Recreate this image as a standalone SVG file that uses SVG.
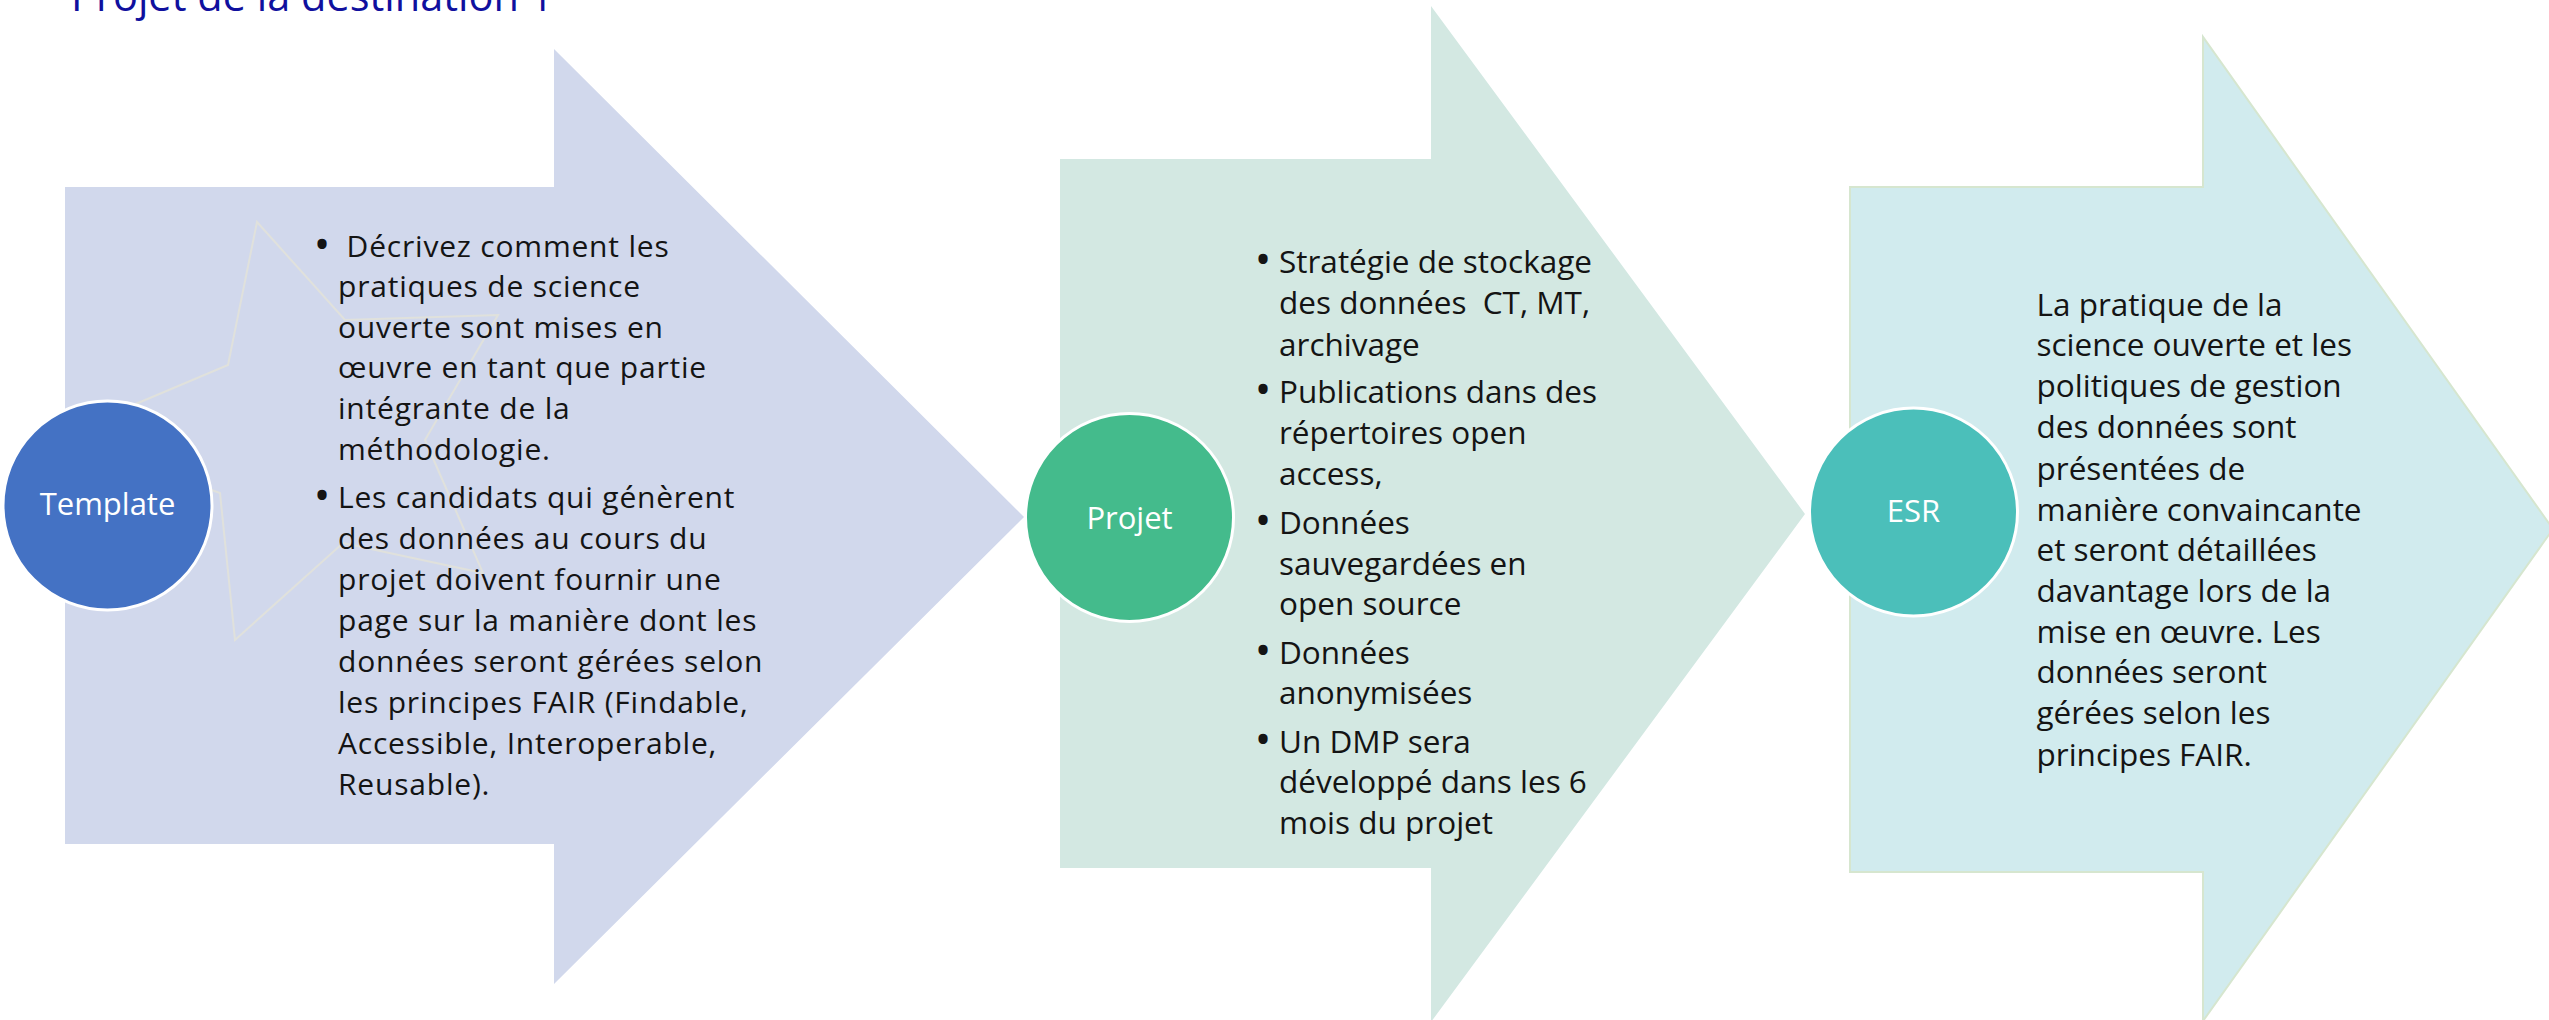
<svg xmlns="http://www.w3.org/2000/svg" width="2549" height="1020" viewBox="0 0 2549 1020" xml:space="preserve">
<style>
  .t { font-family: "Open Sans", "Liberation Sans", sans-serif; fill: #141414; white-space: pre; }
  .left { font-size: 30px; letter-spacing: 0.8px; }
  .mid { font-size: 31.5px; }
  .lbl { font-family: "Open Sans", "Liberation Sans", sans-serif; font-size: 31px; fill: #FFFFFF; text-anchor: middle; }
  .bul { text-anchor: middle; font-size: 44px; letter-spacing: 0; }
  .circ { stroke: #FFFFFF; stroke-width: 3; }
</style>
<rect x="0" y="0" width="2549" height="1020" fill="#FFFFFF"/>

<text x="71" y="11" font-family="'Open Sans', 'Liberation Sans', sans-serif" font-size="41.5" fill="#10109E">Projet de la destination 1</text>

<g id="node-template-arrow">
  <polygon points="65,187 554,187 554,49 1024,517 554,984 554,844 65,844" fill="#D1D8EC"/>
</g>

<g id="decoration-star">
  <polygon points="257,222 345,320 498,315 425,440 483,573 343,543 235,640 220,493 60,436 228,365" fill="none" stroke="#E0E1DC" stroke-width="2"/>
</g>

<g id="node-template-text" class="t left">
  <text class="bul" x="322" y="260">•</text>
  <text x="338" y="257">&#160;Décrivez comment les</text>
  <text x="338" y="297">pratiques de science</text>
  <text x="338" y="338">ouverte sont mises en</text>
  <text x="338" y="378">œuvre en tant que partie</text>
  <text x="338" y="419">intégrante de la</text>
  <text x="338" y="460">méthodologie.</text>
  <text class="bul" x="322" y="511">•</text>
  <text x="338" y="508">Les candidats qui génèrent</text>
  <text x="338" y="549">des données au cours du</text>
  <text x="338" y="590">projet doivent fournir une</text>
  <text x="338" y="631">page sur la manière dont les</text>
  <text x="338" y="672">données seront gérées selon</text>
  <text x="338" y="713">les principes FAIR (Findable,</text>
  <text x="338" y="754">Accessible, Interoperable,</text>
  <text x="338" y="795">Reusable).</text>
</g>

<g id="node-template">
  <circle class="circ" cx="107.5" cy="505.5" r="104.5" fill="#4472C4"/>
  <text class="lbl" x="107.5" y="515">Template</text>
</g>

<g id="node-projet-arrow">
  <polygon points="1060,159 1431,159 1431,6 1805,514 1431,1022 1431,868 1060,868" fill="#D3E8E2"/>
</g>

<g id="node-projet-text" class="t mid">
  <text class="bul" x="1263" y="275">•</text>
  <text x="1279" y="273">Stratégie de stockage</text>
  <text x="1279" y="314">des données&#160; CT, MT,</text>
  <text x="1279" y="356">archivage</text>
  <text class="bul" x="1263" y="405">•</text>
  <text x="1279" y="403">Publications dans des</text>
  <text x="1279" y="444">répertoires open</text>
  <text x="1279" y="485">access,</text>
  <text class="bul" x="1263" y="535.5">•</text>
  <text x="1279" y="533.5">Données</text>
  <text x="1279" y="574.5">sauvegardées en</text>
  <text x="1279" y="615">open source</text>
  <text class="bul" x="1263" y="665.5">•</text>
  <text x="1279" y="663.5">Données</text>
  <text x="1279" y="704">anonymisées</text>
  <text class="bul" x="1263" y="755">•</text>
  <text x="1279" y="753">Un DMP sera</text>
  <text x="1279" y="792.5">développé dans les 6</text>
  <text x="1279" y="834">mois du projet</text>
</g>

<g id="node-projet">
  <circle class="circ" cx="1129.5" cy="517.5" r="104" fill="#44BB8C"/>
  <text class="lbl" x="1129.5" y="529">Projet</text>
</g>

<g id="node-esr-arrow">
  <polygon points="1850,187 2203,187 2203,37 2553,529 2203,1021 2203,872 1850,872" fill="#D1EBEE" stroke="#D6E6CF" stroke-width="2"/>
</g>

<g id="node-esr-text" class="t mid">
  <text x="2036.5" y="315.5">La pratique de la</text>
  <text x="2036.5" y="356">science ouverte et les</text>
  <text x="2036.5" y="397">politiques de gestion</text>
  <text x="2036.5" y="438">des données sont</text>
  <text x="2036.5" y="479.5">présentées de</text>
  <text x="2036.5" y="520.5">manière convaincante</text>
  <text x="2036.5" y="561">et seront détaillées</text>
  <text x="2036.5" y="602">davantage lors de la</text>
  <text x="2036.5" y="643">mise en œuvre. Les</text>
  <text x="2036.5" y="683">données seront</text>
  <text x="2036.5" y="724">gérées selon les</text>
  <text x="2036.5" y="766">principes FAIR.</text>
</g>

<g id="node-esr">
  <circle class="circ" cx="1913.5" cy="512" r="104" fill="#4BBFBA"/>
  <text class="lbl" x="1913.5" y="522">ESR</text>
</g>
</svg>
